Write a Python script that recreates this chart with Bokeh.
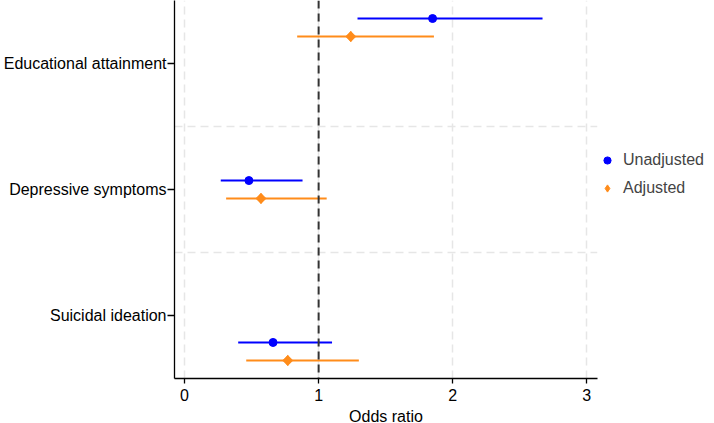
import math
from bokeh.plotting import figure
from bokeh.models import (ColumnDataSource, FixedTicker, Range1d, Span, Legend, LegendItem)
from bokeh.embed import file_html
from bokeh.resources import INLINE

# ---- data ----
categories = ["Educational attainment", "Depressive symptoms", "Suicidal ideation"]
cat_pos = [3, 2, 1]
unadj_or = [1.85, 0.48, 0.66]
unadj_lo = [1.29, 0.27, 0.40]
unadj_hi = [2.67, 0.88, 1.10]
adj_or = [1.24, 0.57, 0.77]
adj_lo = [0.84, 0.31, 0.46]
adj_hi = [1.86, 1.06, 1.30]
unadj_offset = [0.357, 0.071, -0.214]
adj_offset = [0.214, -0.071, -0.357]
x_ticks = [0, 1, 2, 3]
series_names = ["Unadjusted", "Adjusted"]

BLUE = "#0000ff"
ORANGE = "#ff8c1a"
FONT = "Liberation Sans"

p = figure(frame_width=423, frame_height=378, output_backend="svg", toolbar_location=None,
           x_range=Range1d(-0.075, 3.08), y_range=Range1d(0.5, 3.5),
           min_border_left=168, min_border_right=0, min_border_top=0, min_border_bottom=45)
p.outline_line_color = None
p.background_fill_color = "white"

u_src = ColumnDataSource(dict(y=[c + o for c, o in zip(cat_pos, unadj_offset)],
                              x=unadj_or, lo=unadj_lo, hi=unadj_hi))
a_src = ColumnDataSource(dict(y=[c + o for c, o in zip(cat_pos, adj_offset)],
                              x=adj_or, lo=adj_lo, hi=adj_hi))

# reference line
p.add_layout(Span(location=1, dimension="height", line_color="#333333",
                  line_width=2, line_dash="8 5"))

p.segment(x0="lo", x1="hi", y0="y", y1="y", source=u_src, line_color=BLUE, line_width=2)
r_u = p.scatter(x="x", y="y", source=u_src, marker="circle", size=8,
                fill_color=BLUE, line_color=BLUE)
p.segment(x0="lo", x1="hi", y0="y", y1="y", source=a_src, line_color=ORANGE, line_width=2)
# diamond used for the legend (hidden under the rotated square on the plot)
r_a = p.scatter(x="x", y="y", source=a_src, marker="diamond", size=10,
                fill_color=ORANGE, line_color=ORANGE)
p.scatter(x="x", y="y", source=a_src, marker="square", size=7, angle=math.pi / 4,
          fill_color=ORANGE, line_color=ORANGE)

# axes
p.xaxis.ticker = FixedTicker(ticks=x_ticks)
p.xaxis.axis_label = "Odds ratio"
p.yaxis.ticker = FixedTicker(ticks=cat_pos)
p.yaxis.major_label_overrides = {c: n for c, n in zip(cat_pos, categories)}
for ax in (p.xaxis[0], p.yaxis[0]):
    ax.major_label_text_font = FONT
    ax.major_label_text_font_size = "16px"
    ax.major_label_text_color = "black"
    ax.axis_line_color = "black"
    ax.axis_line_width = 1.3
    ax.major_tick_line_color = "black"
    ax.major_tick_line_width = 1.3
    ax.major_tick_out = 7
    ax.major_tick_in = 0
    ax.minor_tick_line_color = None
p.xaxis.major_tick_out = 5
p.xaxis.axis_label_text_font = FONT
p.xaxis.axis_label_text_font_size = "16px"
p.xaxis.axis_label_text_font_style = "normal"
p.xaxis.axis_label_text_color = "black"
p.xaxis.axis_label_standoff = 4
p.xaxis.major_label_standoff = 5
p.yaxis.major_label_standoff = 1

# grid
p.xgrid.ticker = FixedTicker(ticks=x_ticks)
p.ygrid.ticker = FixedTicker(ticks=[1.5, 2.5])
for g in (p.xgrid[0], p.ygrid[0]):
    g.grid_line_color = "#e6e6e6"
    g.grid_line_width = 1.5
    g.grid_line_dash = "8 5"

legend = Legend(items=[LegendItem(label=series_names[0], renderers=[r_u]),
                       LegendItem(label=series_names[1], renderers=[r_a])],
                location=(1, 181), border_line_color=None,
                background_fill_alpha=0, label_text_font=FONT,
                label_text_font_size="16px", glyph_width=18, glyph_height=18,
                spacing=10, label_standoff=7, padding=2, margin=0)
p.add_layout(legend, "right")

open("out.html", "w").write(file_html(p, INLINE))
